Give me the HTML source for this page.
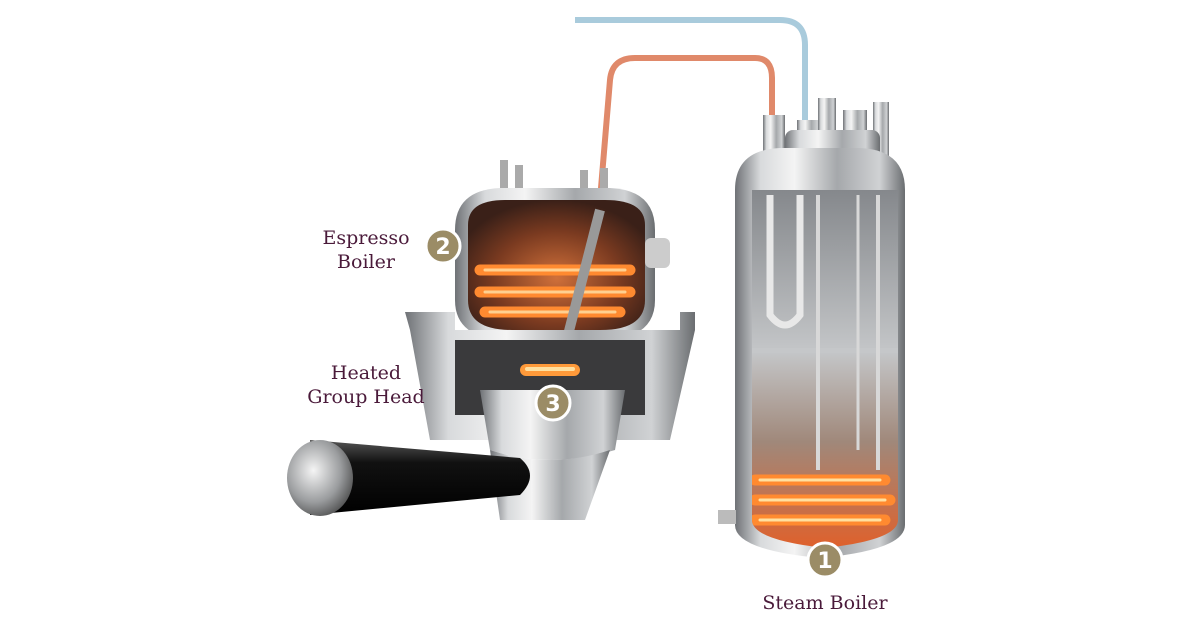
<!DOCTYPE html>
<html><head><meta charset="utf-8"><style>
html,body{margin:0;padding:0;background:#fff;}
svg{display:block}
.lbl{font-family:"DejaVu Serif","Liberation Serif",serif;fill:#4a1a3a;font-size:19px;}
.num{font-family:"DejaVu Sans","Liberation Sans",sans-serif;fill:#fff;font-size:22px;font-weight:bold;}
</style></head><body>
<svg width="1200" height="630" viewBox="0 0 1200 630" xmlns="http://www.w3.org/2000/svg">
<defs>
<linearGradient id="steel" x1="0" x2="1" y1="0" y2="0">
<stop offset="0" stop-color="#6f7276"/><stop offset="0.15" stop-color="#d8dadc"/><stop offset="0.35" stop-color="#f4f4f4"/><stop offset="0.6" stop-color="#a5a8ab"/><stop offset="0.85" stop-color="#d0d2d4"/><stop offset="1" stop-color="#6a6d70"/>
</linearGradient>
<linearGradient id="inner" x1="0" x2="0" y1="0" y2="1">
<stop offset="0" stop-color="#85888c"/><stop offset="0.45" stop-color="#c4c6c8"/><stop offset="0.7" stop-color="#a0887a"/><stop offset="1" stop-color="#e0602a"/>
</linearGradient>
<radialGradient id="eb" cx="0.5" cy="0.6" r="0.6">
<stop offset="0" stop-color="#d0703a"/><stop offset="0.6" stop-color="#7a3a20"/><stop offset="1" stop-color="#3a2018"/>
</radialGradient>
<linearGradient id="black" x1="0" x2="0" y1="0" y2="1">
<stop offset="0" stop-color="#555"/><stop offset="0.3" stop-color="#111"/><stop offset="1" stop-color="#000"/>
</linearGradient>
<radialGradient id="cap" cx="0.4" cy="0.4" r="0.7">
<stop offset="0" stop-color="#f5f5f5"/><stop offset="0.6" stop-color="#9a9c9e"/><stop offset="1" stop-color="#444"/>
</radialGradient>
<clipPath id="sb"><path d="M752,190 H898 V520 Q898,540 825,548 Q752,540 752,520 Z"/></clipPath>
</defs>
<path d="M575,20 H780 Q805,20 805,45 V125" fill="none" stroke="#a9cbdc" stroke-width="6"/>
<path d="M600,200 L610,80 Q612,58 635,58 H755 Q772,58 772,78 V125" fill="none" stroke="#e0896a" stroke-width="6"/>
<rect x="763" y="115" width="22" height="40" fill="url(#steel)"/>
<rect x="797" y="120" width="24" height="35" fill="url(#steel)"/>
<rect x="818" y="98" width="18" height="57" fill="url(#steel)"/>
<rect x="843" y="110" width="24" height="45" fill="url(#steel)"/>
<rect x="873" y="102" width="16" height="55" fill="url(#steel)"/>
<rect x="785" y="130" width="95" height="30" rx="8" fill="url(#steel)"/>
<path d="M735,190 Q735,150 780,148 H860 Q905,150 905,190 V525 Q905,550 820,558 Q735,550 735,525 Z" fill="url(#steel)"/>
<g clip-path="url(#sb)">
<rect x="752" y="190" width="146" height="360" fill="url(#inner)"/>
<rect x="737" y="348" width="166" height="5" fill="#c5c7c9"/>
<path d="M770,195 V315 Q785,335 800,315 V195" fill="none" stroke="#e8e8e8" stroke-width="7"/>
<line x1="818" y1="195" x2="818" y2="470" stroke="#d8d8d8" stroke-width="4"/>
<line x1="858" y1="195" x2="858" y2="450" stroke="#d8d8d8" stroke-width="3"/>
<line x1="878" y1="195" x2="878" y2="470" stroke="#d8d8d8" stroke-width="4"/>
<g fill="none" stroke="#ff8a30" stroke-width="11" stroke-linecap="round">
<path d="M755,480 H885"/><path d="M755,500 H890"/><path d="M755,520 H885"/>
</g>
<g fill="none" stroke="#ffe0a0" stroke-width="3" stroke-linecap="round">
<path d="M760,480 H880"/><path d="M760,500 H885"/><path d="M760,520 H880"/>
</g>
</g>
<rect x="718" y="510" width="18" height="14" fill="#bbb"/>
<rect x="500" y="160" width="8" height="45" fill="#aaa"/><rect x="515" y="165" width="8" height="40" fill="#aaa"/>
<rect x="580" y="170" width="8" height="35" fill="#aaa"/><rect x="600" y="168" width="8" height="37" fill="#aaa"/>
<path d="M455,230 Q455,190 500,188 H610 Q655,190 655,230 V300 Q655,340 600,340 H510 Q455,340 455,300 Z" fill="url(#steel)"/>
<path d="M468,225 Q468,200 505,200 H605 Q645,200 645,225 V300 Q645,330 600,330 H512 Q468,330 468,300 Z" fill="url(#eb)"/>
<g fill="none" stroke="#ff8a30" stroke-width="11" stroke-linecap="round">
<path d="M480,270 H630"/><path d="M480,292 H630"/><path d="M485,312 H620"/>
</g>
<g fill="none" stroke="#ffd090" stroke-width="3" stroke-linecap="round">
<path d="M485,270 H625"/><path d="M485,292 H625"/><path d="M490,312 H615"/>
</g>
<line x1="600" y1="210" x2="568" y2="335" stroke="#999" stroke-width="10"/>
<rect x="645" y="238" width="25" height="30" rx="6" fill="#ccc"/>
<path d="M405,312 H455 V330 H680 V312 H695 V330 L670,440 H430 L410,330 Z" fill="url(#steel)"/>
<rect x="455" y="340" width="190" height="75" fill="#3a3a3c"/>
<rect x="520" y="364" width="60" height="12" rx="6" fill="#ff9a3a"/>
<rect x="525" y="367" width="50" height="4" rx="2" fill="#ffe0a0"/>
<path d="M480,390 H625 L615,450 Q550,470 490,450 Z" fill="url(#steel)"/>
<path d="M490,450 Q550,470 610,450 L585,520 H500 Z" fill="url(#steel)"/>
<path d="M310,440 L520,458 Q540,475 520,495 L310,515 Z" fill="url(#black)"/>
<ellipse cx="320" cy="478" rx="33" ry="38" fill="url(#cap)"/>
<g stroke="#fff" stroke-width="3" fill="#9b8c66">
<circle cx="443" cy="246" r="17"/><circle cx="553" cy="403" r="17"/><circle cx="825" cy="560" r="17"/>
</g>
<text class="num" x="443" y="254" text-anchor="middle">2</text>
<text class="num" x="553" y="411" text-anchor="middle">3</text>
<text class="num" x="825" y="568" text-anchor="middle">1</text>
<text class="lbl" x="366" y="244" text-anchor="middle">Espresso</text>
<text class="lbl" x="366" y="268" text-anchor="middle">Boiler</text>
<text class="lbl" x="366" y="379" text-anchor="middle">Heated</text>
<text class="lbl" x="366" y="403" text-anchor="middle">Group Head</text>
<text class="lbl" x="825" y="609" text-anchor="middle">Steam Boiler</text>
</svg>
</body></html>
